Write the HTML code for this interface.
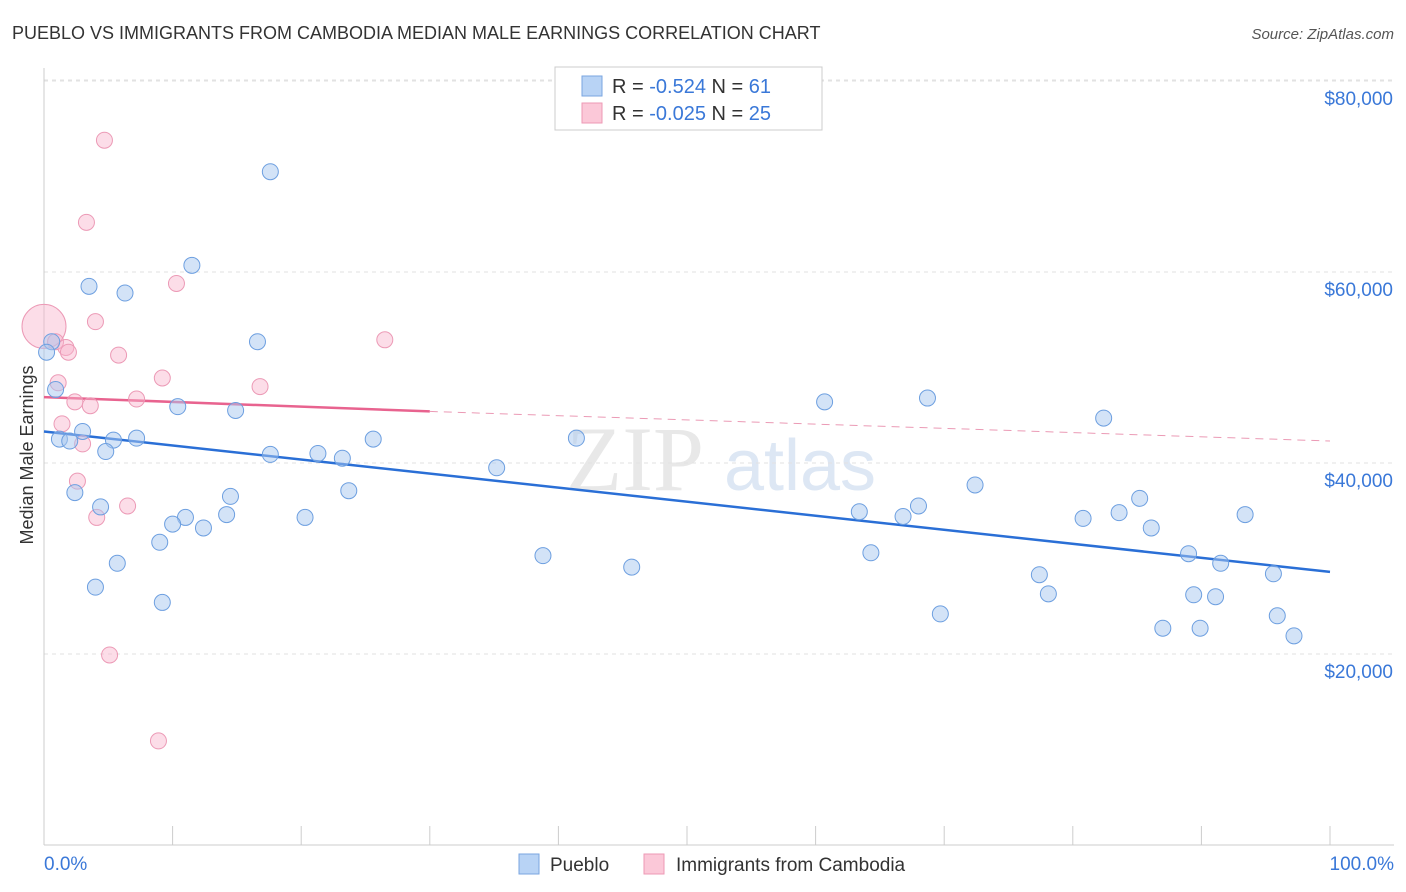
<!DOCTYPE html>
<html><head><meta charset="utf-8">
<style>
body{margin:0;background:#fff;font-family:"Liberation Sans",sans-serif;}
#wrap{position:relative;width:1406px;height:892px;overflow:hidden;}
</style></head>
<body>
<div id="wrap">
<svg id="chart" width="1406" height="892">
<text x="12" y="39" font-size="18" fill="#333">PUEBLO VS IMMIGRANTS FROM CAMBODIA MEDIAN MALE EARNINGS CORRELATION CHART</text>
<text x="1394" y="39" font-size="15" fill="#555" font-style="italic" text-anchor="end">Source: ZipAtlas.com</text>
<text x="33" y="455" font-size="18" fill="#333" text-anchor="middle" transform="rotate(-90 33 455)">Median Male Earnings</text>
<g><text x="635" y="490" font-size="92" fill="#e8e8e8" font-family="Liberation Serif,serif" text-anchor="middle">ZIP</text><text x="800" y="490" font-size="72" fill="#dde7f4" text-anchor="middle">atlas</text></g>
<g id="grid"></g><g id="axes"></g><g id="trends"></g><g id="pts"></g>
<g>
<rect x="555" y="67" width="267" height="63" fill="#fff" stroke="#ccc"/>
<rect x="582" y="76" width="20" height="20" fill="#b8d3f5" stroke="#7aa6e0"/>
<rect x="582" y="103" width="20" height="20" fill="#fbc8d8" stroke="#ee99b5"/>
<text x="612" y="93" font-size="20" fill="#333">R = <tspan fill="#3a78d8">-0.524</tspan>   N = <tspan fill="#3a78d8"> 61</tspan></text>
<text x="612" y="120" font-size="20" fill="#333">R = <tspan fill="#3a78d8">-0.025</tspan>   N = <tspan fill="#3a78d8">25</tspan></text>
</g>
<g>
<rect x="519" y="854" width="20" height="20" fill="#b8d3f5" stroke="#7aa6e0"/>
<text x="550" y="871" font-size="19" fill="#333">Pueblo</text>
<rect x="644" y="854" width="20" height="20" fill="#fbc8d8" stroke="#ee99b5"/>
<text x="676" y="871" font-size="19" fill="#333">Immigrants from Cambodia</text>
</g>
</svg>
</div>
<script>
const yTicks=[20000,40000,60000,80000];
const yTickLabels=["$20,000","$40,000","$60,000","$80,000"];
const xTickLabels=["0.0%","100.0%"];
const puebloX=[17.6,11.5,3.5,6.3,16.6,0.6,0.2,0.9,10.4,14.9,3.0,1.2,2.0,5.4,7.2,4.8,25.6,41.4,17.6,21.3,23.2,35.2,60.7,68.7,82.4,23.7,2.4,14.5,4.4,11.0,14.2,20.3,10.0,12.4,9.0,5.7,4.0,9.2,38.8,45.7,63.4,66.8,68.0,72.4,64.3,80.8,83.6,85.2,86.1,93.4,89.0,91.5,77.4,78.1,89.4,91.1,95.6,69.7,87.0,89.9,95.9,97.2];
const puebloY=[70.5,60.7,58.5,57.8,52.7,52.7,51.6,47.7,45.9,45.5,43.3,42.5,42.3,42.4,42.6,41.2,42.5,42.6,40.9,41.0,40.5,39.5,46.4,46.8,44.7,37.1,36.9,36.5,35.4,34.3,34.6,34.3,33.6,33.2,31.7,29.5,27.0,25.4,30.3,29.1,34.9,34.4,35.5,37.7,30.6,34.2,34.8,36.3,33.2,34.6,30.5,29.5,28.3,26.3,26.2,26.0,28.4,24.2,22.7,22.7,24.0,21.9];
const cambX=[0,4.7,3.3,10.3,4.0,26.5,0.9,1.7,1.9,5.8,9.2,1.1,16.8,2.4,3.6,7.2,1.4,3.0,2.6,6.5,4.1,5.1,8.9];
const cambY=[54.3,73.8,65.2,58.8,54.8,52.9,52.7,52.1,51.6,51.3,48.9,48.4,48.0,46.4,46.0,46.7,44.1,42.0,38.1,35.5,34.3,19.9,10.9];
const cambR=[22,8,8,8,8,8,8,8,8,8,8,8,8,8,8,8,8,8,8,8,8,8,8];
const puebloTrend=[[0,43.3],[100,28.6]];
const cambTrendSolid=[[0,46.9],[30,45.4]];
const cambTrendDash=[[30,45.4],[100,42.3]];
const NS="http://www.w3.org/2000/svg";
const sx=v=>44+v*12.86;
const sy=v=>845-v*9.55; // v in thousands
function mk(tag,attrs,parent){const e=document.createElementNS(NS,tag);for(const k in attrs)e.setAttribute(k,attrs[k]);parent.appendChild(e);return e;}
const grid=document.getElementById('grid'),axes=document.getElementById('axes'),tr=document.getElementById('trends'),pts=document.getElementById('pts');
mk('line',{x1:44,x2:1394,y1:80,y2:80,stroke:'#e2e2e2','stroke-dasharray':'4,4'},grid);
yTicks.forEach((t,i)=>{const y=sy(t/1000);
const l=mk('line',{x1:44,x2:1394,y1:y,y2:y,stroke:'#e2e2e2','stroke-dasharray':'4,4'},grid);


const tx=mk('text',{x:1393,y:y+24,'font-size':19,fill:'#3a78d8','text-anchor':'end'},axes);tx.textContent=yTickLabels[i];

});
mk('line',{x1:44,x2:44,y1:68,y2:845,stroke:'#ccc'},axes);
mk('line',{x1:44,x2:1394,y1:845,y2:845,stroke:'#ccc'},axes);
for(let i=1;i<=10;i++){const x=sx(i*10);mk('line',{x1:x,x2:x,y1:826,y2:845,stroke:'#ccc'},axes);}
const x0=mk('text',{x:44,y:870,'font-size':19,fill:'#3a78d8'},axes);x0.textContent=xTickLabels[0];


const x1=mk('text',{x:1394,y:870,'font-size':19,fill:'#3a78d8','text-anchor':'end'},axes);x1.textContent=xTickLabels[1];


for(let i=0;i<cambX.length;i++){const c=mk('circle',{cx:sx(cambX[i]),cy:sy(cambY[i]),r:cambR[i],fill:'rgba(248,180,203,0.45)',stroke:'#ec9ab6','stroke-width':1},pts);

}
for(let i=0;i<puebloX.length;i++){const c=mk('circle',{cx:sx(puebloX[i]),cy:sy(puebloY[i]),r:8,fill:'rgba(168,200,240,0.5)',stroke:'#6d9fe0','stroke-width':1},pts);

}
const l1=mk('line',{x1:sx(puebloTrend[0][0]),y1:sy(puebloTrend[0][1]),x2:sx(puebloTrend[1][0]),y2:sy(puebloTrend[1][1]),stroke:'#2a6fd6','stroke-width':2.5},tr);


const l2=mk('line',{x1:sx(cambTrendSolid[0][0]),y1:sy(cambTrendSolid[0][1]),x2:sx(cambTrendSolid[1][0]),y2:sy(cambTrendSolid[1][1]),stroke:'#e8638f','stroke-width':2.5},tr);


const l3=mk('line',{x1:sx(cambTrendDash[0][0]),y1:sy(cambTrendDash[0][1]),x2:sx(cambTrendDash[1][0]),y2:sy(cambTrendDash[1][1]),stroke:'#eb9ab5','stroke-width':1,'stroke-dasharray':'8,6'},tr);


</script>
</body></html>
